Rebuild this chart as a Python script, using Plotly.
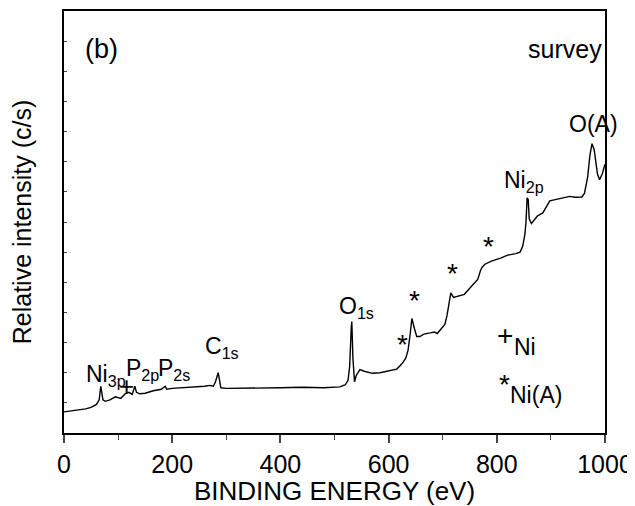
import plotly.graph_objects as go

# Spectrum (binding energy eV, relative intensity arbitrary units)
energy = [0, 10, 25, 40, 50, 60, 65, 68, 72, 76, 85, 95, 105, 113, 120, 126, 131, 134, 140, 150, 165, 180,
          187, 190, 200, 220, 240, 260, 270, 276, 280, 283, 285, 287, 290, 300, 330, 360, 400, 440, 480,
          510, 520, 525, 528, 531, 532, 534, 537, 540, 547, 555, 570, 584, 600, 615, 622, 627, 632, 636,
          640, 643, 648, 652, 658, 665, 677, 685, 690, 697, 704, 708, 712, 715, 720, 730, 740, 750, 758,
          765, 770, 773, 778, 790, 807, 820, 835, 843, 848, 852, 854, 856, 858, 860, 864, 868, 875, 885,
          898, 910, 920, 935, 945, 957, 962, 968, 972, 976, 980, 983, 986, 990, 995, 1000]
intensity = [0.70, 0.72, 0.76, 0.80, 0.85, 0.95, 1.10, 1.55, 1.10, 1.05, 1.10, 1.20, 1.15, 1.30, 1.35,
             1.28, 1.55, 1.35, 1.30, 1.32, 1.40, 1.45, 1.55, 1.45, 1.48, 1.50, 1.52, 1.55, 1.58, 1.55,
             1.70, 1.90, 2.00, 1.80, 1.50, 1.48, 1.48, 1.50, 1.50, 1.52, 1.50, 1.53, 1.60, 1.75, 2.20,
             3.50, 3.70, 2.50, 1.70, 1.90, 2.10, 2.05, 1.98, 2.00, 2.05, 2.12, 2.25, 2.35, 2.50, 2.75,
             3.30, 3.80, 3.45, 3.20, 3.20, 3.28, 3.32, 3.35, 3.30, 3.45, 3.60, 3.90, 4.30, 4.65, 4.50,
             4.55, 4.60, 4.80, 4.95, 5.10, 5.40, 5.50, 5.60, 5.70, 5.80, 5.90, 5.95, 6.00, 6.20, 6.60,
             7.00, 7.80, 7.75, 7.10, 6.95, 7.05, 7.20, 7.30, 7.70, 7.75, 7.80, 7.85, 7.82, 7.83, 7.95,
             8.50, 9.20, 9.60, 9.40, 8.90, 8.60, 8.40, 8.60, 8.92]

x_ticks = [0, 200, 400, 600, 800, 1000]

FONT = "Arial, Liberation Sans, sans-serif"

fig = go.Figure()
fig.add_trace(go.Scatter(x=energy, y=intensity, mode="lines",
                         line=dict(color="black", width=1.4), showlegend=False))

# Annotations: (x, y, text, size, xanchor)
labels = [
    (35, 12.75, "(b)", 27, "left"),
    (998, 12.75, "survey", 25, "right"),
    (978, 10.25, "O(A)", 23, "center"),
    (850, 8.35, "Ni<sub>2p</sub>", 23, "center"),
    (785, 6.2, "*", 28, "center"),
    (718, 5.3, "*", 28, "center"),
    (648, 4.4, "*", 28, "center"),
    (625, 2.95, "*", 28, "center"),
    (540, 4.15, "O<sub>1s</sub>", 23, "center"),
    (292, 2.85, "C<sub>1s</sub>", 23, "center"),
    (78, 1.92, "Ni<sub>3p</sub>", 23, "center"),
    (116, 1.55, "+", 26, "center"),
    (145, 2.1, "P<sub>2p</sub>", 23, "center"),
    (203, 2.1, "P<sub>2s</sub>", 23, "center"),
    (815, 3.25, "+", 28, "center"),
    (852, 2.85, "Ni", 23, "center"),
    (815, 1.6, "*", 28, "center"),
    (872, 1.25, "Ni(A)", 23, "center"),
]
for x, y, t, s, xa in labels:
    fig.add_annotation(x=x, y=y, text=t, showarrow=False, xanchor=xa, yanchor="middle",
                       font=dict(family=FONT, size=s, color="black"))

# The page body adds an 8px offset; size the figure so it fits the 635x506 window.
fig.update_layout(
    width=627, height=498,
    margin=dict(l=56, r=30, t=3, b=73),
    paper_bgcolor="white", plot_bgcolor="white",
    font=dict(family=FONT, color="black"),
)
fig.update_xaxes(range=[0, 1000], tickvals=x_ticks, ticks="outside", ticklen=8, tickwidth=1.5,
                 tickfont=dict(size=25), showline=True, linewidth=2, linecolor="black", mirror=True,
                 showgrid=False, zeroline=False, automargin=False,
                 minor=dict(dtick=100, ticks="outside", ticklen=5, tickwidth=1.2),
                 title=dict(text="BINDING ENERGY (eV)", font=dict(size=26), standoff=2))
fig.update_yaxes(range=[0, 14], dtick=1, ticks="inside", ticklen=3, tickwidth=1,
                 showticklabels=False, showline=True, linewidth=2, linecolor="black", mirror=True,
                 showgrid=False, zeroline=False, automargin=False,
                 title=dict(text="Relative intensity (c/s)", font=dict(size=25), standoff=30))

fig.write_html("out.html")
